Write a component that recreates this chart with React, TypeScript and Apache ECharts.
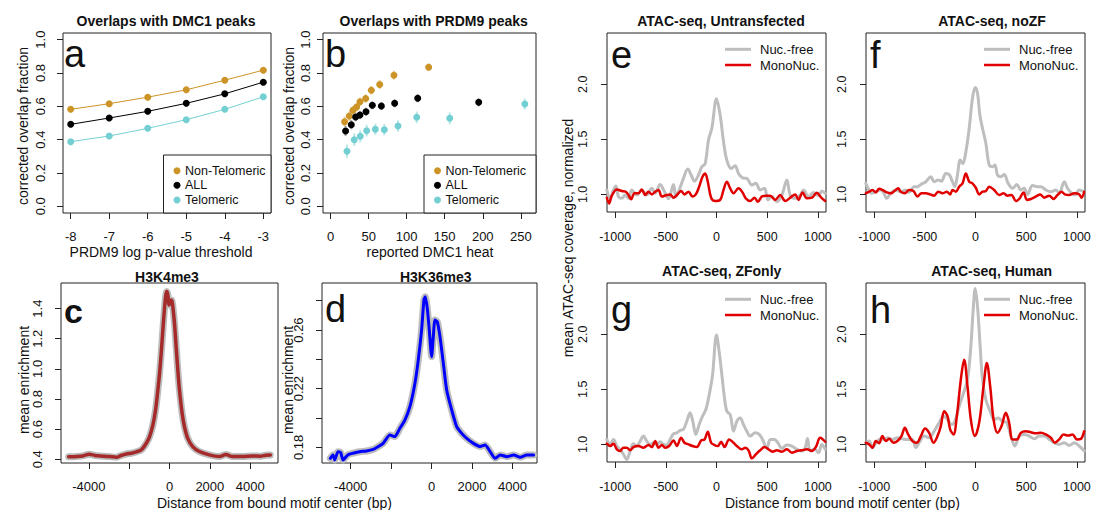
import React, { useEffect, useRef } from "react";
import * as echarts from "echarts";

// ---------- Panel a ----------
const aThresh = [-8, -7, -6, -5, -4, -3];
const aNonTel = [0.582, 0.616, 0.655, 0.699, 0.757, 0.817];
const aAll = [0.492, 0.53, 0.57, 0.618, 0.675, 0.745];
const aTel = [0.388, 0.422, 0.468, 0.52, 0.582, 0.657];

// ---------- Panel b ----------
const bNonTelX = [18.4, 24.6, 29.4, 34.2, 38.6, 46.1, 53.5, 64.5, 83.3, 128.9];
const bNonTelY = [0.508, 0.542, 0.576, 0.596, 0.628, 0.647, 0.697, 0.731, 0.787, 0.835];
const bNonTelErr = [0.03, 0.028, 0.026, 0.025, 0.025, 0.025, 0.025, 0.026, 0.026, 0.022];
const bAllX = [19.7, 27.2, 32.9, 38.6, 46.5, 54.8, 66.7, 84.2, 114.5, 194.7];
const bAllY = [0.452, 0.49, 0.536, 0.548, 0.568, 0.606, 0.602, 0.618, 0.649, 0.624];
const bAllErr = [0.03, 0.028, 0.026, 0.025, 0.024, 0.024, 0.024, 0.024, 0.025, 0.024];
const bTelX = [21.5, 31.1, 39.0, 47.4, 58.8, 70.6, 88.6, 113.2, 156.6, 255.3];
const bTelY = [0.331, 0.4, 0.42, 0.454, 0.462, 0.46, 0.482, 0.534, 0.528, 0.614];
const bTelErr = [0.04, 0.038, 0.036, 0.035, 0.034, 0.034, 0.034, 0.035, 0.036, 0.034];

// ---------- Panel c (H3K4me3) ----------
const cX = [-5000, -4600, -4300, -3984, -3700, -3457, -3000, -2634, -2400, -2140, -1900, -1646, -1399, -1152, -988, -823, -691, -576, -494, -412, -329, -247, -181, -132, -82, -33, 16, 66, 115, 165, 247, 329, 412, 494, 626, 741, 905, 1152, 1481, 1975, 2469, 2798, 3128, 3621, 4115, 4500, 4774, 5000];
const cY = [0.416, 0.418, 0.422, 0.433, 0.425, 0.422, 0.418, 0.413, 0.425, 0.435, 0.44, 0.449, 0.462, 0.506, 0.55, 0.628, 0.727, 0.86, 0.97, 1.104, 1.258, 1.402, 1.49, 1.513, 1.49, 1.424, 1.435, 1.457, 1.453, 1.413, 1.303, 1.148, 0.993, 0.86, 0.705, 0.617, 0.539, 0.484, 0.451, 0.429, 0.418, 0.431, 0.418, 0.418, 0.422, 0.42, 0.427, 0.428];

// ---------- Panel d (H3K36me3) ----------
const dX = [-5008, -4876, -4793, -4628, -4496, -4380, -4132, -3884, -3554, -3223, -2893, -2645, -2397, -2066, -1818, -1570, -1322, -1074, -826, -661, -496, -380, -314, -215, -116, 0, 83, 165, 281, 413, 579, 744, 992, 1240, 1488, 1736, 2066, 2397, 2645, 2893, 3140, 3388, 3719, 4050, 4380, 4711, 5041];
const dY = [0.1725, 0.1748, 0.1714, 0.177, 0.1764, 0.1714, 0.175, 0.176, 0.177, 0.1775, 0.1786, 0.1805, 0.1827, 0.1884, 0.1873, 0.193, 0.1986, 0.2077, 0.2236, 0.2395, 0.26, 0.2805, 0.2827, 0.2748, 0.26, 0.2418, 0.2555, 0.2668, 0.2657, 0.2555, 0.2373, 0.2191, 0.2055, 0.1941, 0.1895, 0.1861, 0.1827, 0.1805, 0.1816, 0.177, 0.1725, 0.1748, 0.1736, 0.1748, 0.1732, 0.1748, 0.1748];

// ---------- Panel e (ATAC Untransfected) ----------
const eNucX = [-1082, -1049, -1016, -993, -967, -934, -901, -868, -836, -786, -737, -688, -638, -605, -556, -513, -474, -424, -401, -368, -326, -283, -250, -217, -178, -145, -112, -79, -46, 0, 36, 69, 102, 145, 184, 217, 257, 299, 349, 388, 431, 474, 507, 546, 595, 645, 694, 727, 776, 826, 859, 908, 957, 1007, 1039, 1072];
const eNucY = [1.04, 0.96, 1.04, 1.076, 0.98, 0.964, 0.994, 0.964, 1.04, 0.994, 1.04, 0.994, 1.055, 1.01, 1.09, 1.024, 0.96, 1.09, 0.98, 1.04, 1.145, 1.23, 1.176, 1.12, 1.176, 1.25, 1.28, 1.494, 1.6, 1.867, 1.72, 1.48, 1.31, 1.236, 1.26, 1.19, 1.15, 1.145, 1.085, 1.1, 1.04, 1.055, 0.95, 0.98, 0.933, 0.994, 1.13, 0.994, 0.964, 0.994, 1.04, 0.98, 1.018, 0.988, 1.03, 1.01];
const eMonoX = [-1082, -1059, -1033, -983, -934, -895, -868, -842, -809, -770, -737, -704, -671, -638, -605, -572, -539, -490, -457, -424, -391, -349, -316, -276, -237, -204, -171, -138, -112, -86, -53, -13, 36, 69, 102, 135, 168, 217, 257, 289, 332, 375, 408, 447, 487, 530, 579, 628, 678, 727, 776, 809, 849, 891, 941, 990, 1033, 1072];
const eMonoY = [0.97, 0.918, 0.988, 1.045, 1.03, 1.024, 0.994, 0.955, 1.01, 1.01, 1.045, 0.994, 1.024, 1.0, 1.024, 1.04, 0.98, 0.994, 1.0, 0.97, 0.994, 1.03, 1.0, 1.024, 0.98, 1.0, 1.07, 1.16, 1.19, 1.115, 0.97, 0.94, 0.95, 1.04, 1.115, 1.055, 1.01, 1.055, 1.018, 0.964, 0.94, 0.97, 0.933, 0.98, 0.988, 0.988, 0.95, 0.994, 0.94, 0.97, 1.0, 0.95, 1.018, 0.964, 0.97, 1.015, 0.97, 0.94];

// ---------- Panel f (ATAC noZF) ----------
const fNucX = [-1082, -1059, -1026, -983, -934, -908, -875, -836, -786, -737, -688, -655, -605, -572, -539, -490, -441, -408, -368, -336, -293, -260, -227, -204, -178, -151, -125, -95, -62, -30, -3, 20, 43, 69, 102, 135, 168, 191, 217, 250, 283, 322, 365, 408, 447, 480, 513, 562, 612, 645, 694, 743, 793, 826, 875, 908, 941, 980, 1023, 1072];
const fNucY = [1.1, 1.055, 1.01, 1.024, 1.04, 1.018, 0.964, 1.01, 1.04, 1.024, 1.04, 1.018, 1.07, 1.07, 1.09, 1.115, 1.16, 1.115, 1.13, 1.12, 1.19, 1.18, 1.115, 1.07, 1.176, 1.312, 1.28, 1.388, 1.6, 1.873, 1.97, 1.918, 1.72, 1.6, 1.464, 1.267, 1.25, 1.267, 1.176, 1.16, 1.18, 1.1, 1.055, 1.09, 1.04, 1.055, 1.0, 1.08, 1.07, 1.07, 1.04, 1.024, 1.04, 1.01, 1.115, 1.055, 1.018, 0.994, 1.04, 1.024];
const fMonoX = [-1082, -1049, -1016, -983, -951, -918, -875, -836, -796, -763, -737, -697, -655, -612, -572, -533, -490, -447, -408, -368, -326, -283, -250, -227, -194, -161, -128, -95, -62, -30, 3, 36, 69, 102, 135, 184, 234, 276, 316, 355, 398, 431, 474, 507, 546, 595, 638, 678, 727, 770, 809, 849, 881, 924, 974, 1023, 1046, 1072];
const fMonoY = [1.01, 1.024, 1.04, 1.018, 1.05, 1.04, 1.018, 1.01, 1.033, 1.055, 1.024, 1.01, 1.04, 1.03, 0.98, 1.01, 1.01, 1.0, 0.988, 1.024, 1.01, 1.024, 1.0, 1.04, 1.024, 1.07, 1.1, 1.19, 1.115, 1.1, 1.06, 1.0, 1.024, 1.03, 1.07, 1.04, 0.994, 1.01, 0.988, 0.994, 0.94, 0.958, 1.018, 0.95, 0.958, 0.98, 1.0, 0.97, 0.988, 0.958, 0.994, 1.024, 1.0, 0.994, 1.01, 1.0, 0.97, 1.024];

// ---------- Panel g (ATAC ZFonly) ----------
const gNucX = [-1082, -1049, -1016, -983, -951, -918, -885, -852, -819, -786, -753, -720, -688, -655, -622, -589, -556, -523, -490, -457, -424, -391, -359, -326, -293, -260, -234, -204, -171, -138, -105, -72, -39, 0, 26, 53, 79, 102, 135, 168, 201, 234, 266, 299, 332, 382, 421, 454, 497, 530, 572, 605, 645, 694, 743, 793, 842, 875, 898, 924, 967, 1007, 1039, 1072];
const gNucY = [1.045, 1.0, 1.045, 0.985, 0.955, 0.91, 0.864, 0.94, 1.006, 0.985, 1.03, 1.075, 1.03, 1.0, 1.015, 1.0, 1.024, 1.0, 0.994, 1.045, 1.096, 1.105, 1.127, 1.136, 1.21, 1.286, 1.21, 1.09, 1.18, 1.256, 1.316, 1.45, 1.63, 1.994, 1.843, 1.63, 1.42, 1.3, 1.27, 1.12, 1.21, 1.24, 1.18, 1.12, 1.075, 1.105, 1.09, 1.045, 0.964, 1.045, 1.045, 1.015, 0.964, 0.994, 0.985, 0.955, 0.94, 0.97, 1.054, 0.94, 0.955, 0.925, 1.0, 0.955];
const gMonoX = [-1082, -1049, -1016, -983, -951, -918, -885, -852, -819, -770, -720, -671, -638, -605, -572, -539, -507, -467, -424, -391, -349, -316, -276, -237, -194, -151, -118, -86, -53, -20, 13, 46, 79, 125, 168, 201, 250, 283, 316, 349, 388, 431, 474, 513, 553, 595, 645, 694, 743, 793, 842, 891, 941, 980, 1023, 1072];
const gMonoY = [1.006, 0.985, 1.006, 0.955, 0.94, 0.97, 0.97, 0.946, 0.976, 0.985, 0.97, 0.994, 0.976, 1.03, 0.97, 0.994, 0.97, 0.985, 1.036, 0.985, 1.06, 1.015, 1.0, 0.985, 0.976, 1.036, 1.045, 1.114, 1.015, 0.994, 0.985, 1.024, 0.976, 1.045, 1.015, 0.985, 0.955, 0.97, 0.946, 0.873, 0.91, 0.946, 0.976, 0.955, 0.934, 0.946, 0.934, 0.955, 0.925, 0.94, 0.946, 0.955, 0.94, 0.976, 1.06, 1.024];

// ---------- Panel h (ATAC Human) ----------
const hNucX = [-1082, -1049, -1016, -983, -934, -901, -868, -819, -770, -720, -671, -622, -589, -556, -507, -457, -408, -359, -316, -276, -237, -204, -161, -118, -79, -46, -23, -3, 20, 46, 69, 102, 145, 184, 224, 266, 309, 349, 388, 431, 480, 530, 579, 628, 678, 727, 776, 826, 875, 924, 974, 1023, 1072];
const hNucY = [1.015, 1.03, 0.97, 1.01, 1.05, 1.045, 1.06, 1.045, 1.06, 1.05, 1.045, 1.045, 0.97, 1.015, 1.075, 1.06, 1.12, 1.196, 1.256, 1.226, 1.18, 1.21, 1.346, 1.467, 1.587, 1.889, 2.22, 2.416, 2.25, 1.889, 1.587, 1.407, 1.3, 1.226, 1.24, 1.21, 1.196, 1.075, 0.985, 1.075, 1.09, 1.075, 1.05, 1.075, 1.075, 1.045, 1.015, 1.0, 1.015, 0.99, 1.015, 0.985, 0.94];
const hMonoX = [-1082, -1049, -1016, -983, -951, -918, -885, -852, -809, -770, -730, -697, -664, -622, -579, -539, -497, -457, -414, -375, -342, -309, -276, -250, -217, -184, -145, -112, -79, -46, -7, 36, 79, 112, 145, 178, 217, 257, 299, 332, 365, 408, 447, 497, 546, 595, 645, 694, 743, 783, 826, 868, 914, 957, 1000, 1039, 1072];
const hMonoY = [1.015, 1.0, 0.97, 1.03, 1.01, 1.075, 1.03, 1.05, 1.015, 1.03, 1.075, 1.15, 1.09, 1.03, 1.015, 1.075, 1.145, 1.105, 1.015, 1.075, 1.166, 1.3, 1.256, 1.136, 1.09, 1.256, 1.587, 1.768, 1.527, 1.226, 1.075, 1.196, 1.527, 1.738, 1.527, 1.226, 1.105, 1.166, 1.286, 1.196, 1.045, 1.045, 1.105, 1.12, 1.11, 1.1, 1.105, 1.09, 1.06, 1.015, 1.045, 1.09, 1.08, 1.09, 1.045, 1.05, 1.12];

// ---------- Tick values ----------
const aXTicks = [-8, -7, -6, -5, -4, -3];
const fracTicks = [0, 0.2, 0.4, 0.6, 0.8, 1.0];
const bXTicks = [0, 50, 100, 150, 200, 250];
const distTicks = [-4000, -2000, 0, 2000, 4000];
const distLabels = [-4000, 0, 2000, 4000];
const cYTicks = [0.4, 0.6, 0.8, 1.0, 1.2, 1.4];
const dYTicks = [0.18, 0.2, 0.22, 0.24, 0.26, 0.28];
const dYLabels = [0.18, 0.22, 0.26];
const atacXTicks = [-1000, -500, 0, 500, 1000];
const atacYTicks = [1.0, 1.5, 2.0];

const FONT = "'Liberation Sans', Arial, Helvetica, sans-serif";
const GOLD = "#cc9426";
const BLACK = "#000000";
const CYAN = "#74cfd2";
const NUC = "#bebebe";
const MONO = "#e00000";
const INK = "#111111";

const pairs = (xs: number[], ys: number[]) => xs.map((x, i) => [x, ys[i]]);
const triples = (xs: number[], ys: number[], es: number[]) => xs.map((x, i) => [x, ys[i], es[i]]);

const fmt0 = (v: number) => String(Math.round(v));
const fmt1 = (v: number) => v.toFixed(1);
const fmt2 = (v: number) => v.toFixed(2);

function xAx(gi: number, min: number, max: number, ticks: number[], labels: number[], fmt: any, margin: number, fs: number) {
  return {
    type: "value", gridIndex: gi, min, max,
    axisLine: { show: false, onZero: false },
    axisTick: { show: true, inside: false, length: 6, lineStyle: { color: "#222", width: 1 }, customValues: ticks },
    axisLabel: { show: true, customValues: labels, formatter: fmt, margin, fontSize: fs, color: INK, fontFamily: FONT },
    splitLine: { show: false },
  };
}
function yAx(gi: number, min: number, max: number, ticks: number[], labels: number[], fmt: any, margin: number, fs: number) {
  return {
    type: "value", gridIndex: gi, min, max,
    axisLine: { show: false, onZero: false },
    axisTick: { show: true, inside: false, length: 6, lineStyle: { color: "#222", width: 1 }, customValues: ticks },
    axisLabel: { show: true, customValues: labels, formatter: fmt, margin, fontSize: fs, color: INK, fontFamily: FONT, rotate: 90 },
    splitLine: { show: false },
  };
}

function txt(x: number, y: number, s: string, size: number, o: any = {}) {
  const align = o.align || "center";
  return {
    type: "text", x, y, rotation: o.rot || 0, z: 50, silent: true,
    style: {
      text: s, fill: INK, fontSize: size, fontFamily: FONT, fontWeight: o.bold ? "bold" : "normal",
      align, textAlign: align, verticalAlign: "middle", textVerticalAlign: "middle",
    },
  };
}

function errSeries(gi: number, data: number[][], color: string) {
  return {
    type: "custom", xAxisIndex: gi, yAxisIndex: gi, data, z: 1,
    encode: { x: 0, y: 1 },
    renderItem: (params: any, api: any) => {
      const x = api.value(0), y = api.value(1), e = api.value(2);
      const p1 = api.coord([x, y - e]);
      const p2 = api.coord([x, y + e]);
      return { type: "line", shape: { x1: p1[0], y1: p1[1], x2: p2[0], y2: p2[1] }, style: { stroke: color, lineWidth: 2, opacity: 0.5 } };
    },
  };
}

function lineS(gi: number, data: number[][], color: string, width: number, smooth: number) {
  return {
    type: "line", xAxisIndex: gi, yAxisIndex: gi, data, showSymbol: false, symbol: "none",
    smooth, lineStyle: { color, width, join: "round", cap: "round" }, itemStyle: { color },
  };
}

function legendBox(x0: number, x1: number) {
  const els: any[] = [
    { type: "rect", z: 40, silent: true, shape: { x: x0, y: 155, width: x1 - x0, height: 58 }, style: { fill: "#fff", stroke: "#222", lineWidth: 1 } },
  ];
  const rows: [string, string, number][] = [["Non-Telomeric", GOLD, 170.7], ["ALL", BLACK, 185.3], ["Telomeric", CYAN, 200]];
  rows.forEach(([s, c, y]) => {
    els.push({ type: "circle", z: 45, silent: true, shape: { cx: x0 + 13.5, cy: y, r: 3.5 }, style: { fill: c } });
    els.push(txt(x0 + 21.5, y, s, 12.5, { align: "left" }));
  });
  return els;
}

function atacLegend(x0: number, y0: number) {
  return [
    { type: "line", z: 45, silent: true, shape: { x1: x0, y1: y0, x2: x0 + 26, y2: y0 }, style: { stroke: NUC, lineWidth: 3 } },
    { type: "line", z: 45, silent: true, shape: { x1: x0, y1: y0 + 15.7, x2: x0 + 26, y2: y0 + 15.7 }, style: { stroke: MONO, lineWidth: 2.5 } },
    txt(x0 + 35, y0, "Nuc.-free", 13, { align: "left" }),
    txt(x0 + 35, y0 + 15.7, "MonoNuc.", 13, { align: "left" }),
  ];
}

function buildOption() {
  const gridBase = { show: true, borderColor: "#222", borderWidth: 1, backgroundColor: "transparent", containLabel: false };
  const grid = [
    { left: 63, top: 33, width: 208, height: 180 },
    { left: 323, top: 33, width: 213, height: 180 },
    { left: 61, top: 283, width: 217, height: 180 },
    { left: 322, top: 283, width: 215, height: 180 },
    { left: 607, top: 33, width: 219, height: 179 },
    { left: 866, top: 33, width: 219, height: 179 },
    { left: 607, top: 283, width: 219, height: 179 },
    { left: 866, top: 283, width: 219, height: 179 },
  ].map((g) => ({ ...gridBase, ...g }));

  const xAxis = [
    xAx(0, -8.2, -2.8, aXTicks, aXTicks, fmt0, 17, 13),
    xAx(1, -10, 270, bXTicks, bXTicks, fmt0, 17, 13),
    xAx(2, -5380, 5380, distTicks, distLabels, fmt0, 17, 13),
    xAx(3, -5420, 5210, distTicks, distLabels, fmt0, 17, 13),
    xAx(4, -1080, 1080, atacXTicks, atacXTicks, fmt0, 18.5, 12.5),
    xAx(5, -1080, 1080, atacXTicks, atacXTicks, fmt0, 18.5, 12.5),
    xAx(6, -1080, 1080, atacXTicks, atacXTicks, fmt0, 18, 12.5),
    xAx(7, -1080, 1080, atacXTicks, atacXTicks, fmt0, 18, 12.5),
  ];
  const yAxis = [
    yAx(0, -0.04, 1.04, fracTicks, fracTicks, fmt1, 16, 13),
    yAx(1, -0.04, 1.04, fracTicks, fracTicks, fmt1, 11, 13),
    yAx(2, 0.375, 1.57, cYTicks, cYTicks, fmt1, 17, 13),
    yAx(3, 0.1693, 0.2921, dYTicks, dYLabels, fmt2, 17, 13),
    yAx(4, 0.84, 2.465, atacYTicks, atacYTicks, fmt1, 18, 12.5),
    yAx(5, 0.84, 2.465, atacYTicks, atacYTicks, fmt1, 18, 12.5),
    yAx(6, 0.84, 2.465, atacYTicks, atacYTicks, fmt1, 18, 12.5),
    yAx(7, 0.84, 2.465, atacYTicks, atacYTicks, fmt1, 18, 12.5),
  ];

  const aLine = (ys: number[], color: string) => ({
    type: "line", xAxisIndex: 0, yAxisIndex: 0, data: pairs(aThresh, ys), symbol: "circle", symbolSize: 7,
    lineStyle: { color, width: 1 }, itemStyle: { color }, z: 3,
  });
  const bPts = (xs: number[], ys: number[], color: string) => ({
    type: "scatter", xAxisIndex: 1, yAxisIndex: 1, data: pairs(xs, ys), symbol: "circle", symbolSize: 7,
    itemStyle: { color, opacity: 1 }, z: 3,
  });

  const series: any[] = [
    aLine(aNonTel, GOLD), aLine(aAll, BLACK), aLine(aTel, CYAN),
    errSeries(1, triples(bNonTelX, bNonTelY, bNonTelErr), GOLD),
    errSeries(1, triples(bAllX, bAllY, bAllErr), "#555"),
    errSeries(1, triples(bTelX, bTelY, bTelErr), CYAN),
    bPts(bNonTelX, bNonTelY, GOLD), bPts(bAllX, bAllY, BLACK), bPts(bTelX, bTelY, CYAN),
    lineS(2, pairs(cX, cY), "#bdbdbd", 7, 0.3),
    lineS(2, pairs(cX, cY), "#a52a2a", 3.5, 0.3),
    lineS(3, pairs(dX, dY), "#bdbdbd", 7, 0.2),
    lineS(3, pairs(dX, dY), "#0000ff", 3, 0.2),
    lineS(4, pairs(eNucX, eNucY), NUC, 3, 0.35),
    lineS(4, pairs(eMonoX, eMonoY), MONO, 2.5, 0.35),
    lineS(5, pairs(fNucX, fNucY), NUC, 3, 0.35),
    lineS(5, pairs(fMonoX, fMonoY), MONO, 2.5, 0.35),
    lineS(6, pairs(gNucX, gNucY), NUC, 3, 0.35),
    lineS(6, pairs(gMonoX, gMonoY), MONO, 2.5, 0.35),
    lineS(7, pairs(hNucX, hNucY), NUC, 3, 0.35),
    lineS(7, pairs(hMonoX, hMonoY), MONO, 2.5, 0.35),
  ];

  const R90 = Math.PI / 2;
  const graphic: any[] = [
    // titles
    txt(166, 20.7, "Overlaps with DMC1 peaks", 14, { bold: true }),
    txt(433.7, 20.7, "Overlaps with PRDM9 peaks", 14, { bold: true }),
    txt(167, 276.7, "H3K4me3", 14, { bold: true }),
    txt(435.7, 276.7, "H3K36me3", 14, { bold: true }),
    txt(721, 20.7, "ATAC-seq, Untransfected", 14, { bold: true }),
    txt(992, 20.7, "ATAC-seq, noZF", 14, { bold: true }),
    txt(721.7, 270.7, "ATAC-seq, ZFonly", 14, { bold: true }),
    txt(991.7, 270.7, "ATAC-seq, Human", 14, { bold: true }),
    // panel letters
    txt(64, 54, "a", 38, { align: "left" }),
    txt(325, 54, "b", 38, { align: "left" }),
    txt(64, 311, "c", 34, { align: "left", bold: true }),
    txt(325, 309, "d", 38, { align: "left" }),
    txt(611, 55, "e", 38, { align: "left" }),
    txt(870, 55, "f", 38, { align: "left" }),
    txt(611, 310, "g", 38, { align: "left" }),
    txt(870, 310, "h", 38, { align: "left" }),
    // axis titles
    txt(22.5, 126, "corrected overlap fraction", 14, { rot: R90 }),
    txt(161, 251.5, "PRDM9 log p-value threshold", 14),
    txt(289, 126, "corrected overlap fraction", 14, { rot: R90 }),
    txt(430, 251.5, "reported DMC1 heat", 14),
    txt(24, 380, "mean enrichment", 14, { rot: R90 }),
    txt(287.5, 380, "mean enrichment", 14, { rot: R90 }),
    txt(157, 503, "Distance from bound motif center (bp)", 14, { align: "left" }),
    txt(568, 238, "mean ATAC-seq coverage, normalized", 14, { rot: R90 }),
    txt(725, 502.5, "Distance from bound motif center (bp)", 14, { align: "left" }),
    // legends
    ...legendBox(163.5, 271),
    ...legendBox(424, 536),
    ...atacLegend(725, 49.3),
    ...atacLegend(984, 49.3),
    ...atacLegend(725, 299.3),
    ...atacLegend(984, 299.3),
  ];

  return {
    animation: false,
    backgroundColor: "#ffffff",
    textStyle: { fontFamily: FONT },
    grid, xAxis, yAxis, series, graphic,
  };
}

export default function App() {
  const ref = useRef<HTMLDivElement>(null);
  useEffect(() => {
    if (!ref.current) return;
    const chart = echarts.init(ref.current, null, { renderer: "svg" });
    chart.setOption(buildOption() as any);
    return () => chart.dispose();
  }, []);
  return (
    <div
      ref={ref}
      style={{ position: "fixed", left: 0, top: 0, width: 1094, height: 510, background: "#fff" }}
    />
  );
}
